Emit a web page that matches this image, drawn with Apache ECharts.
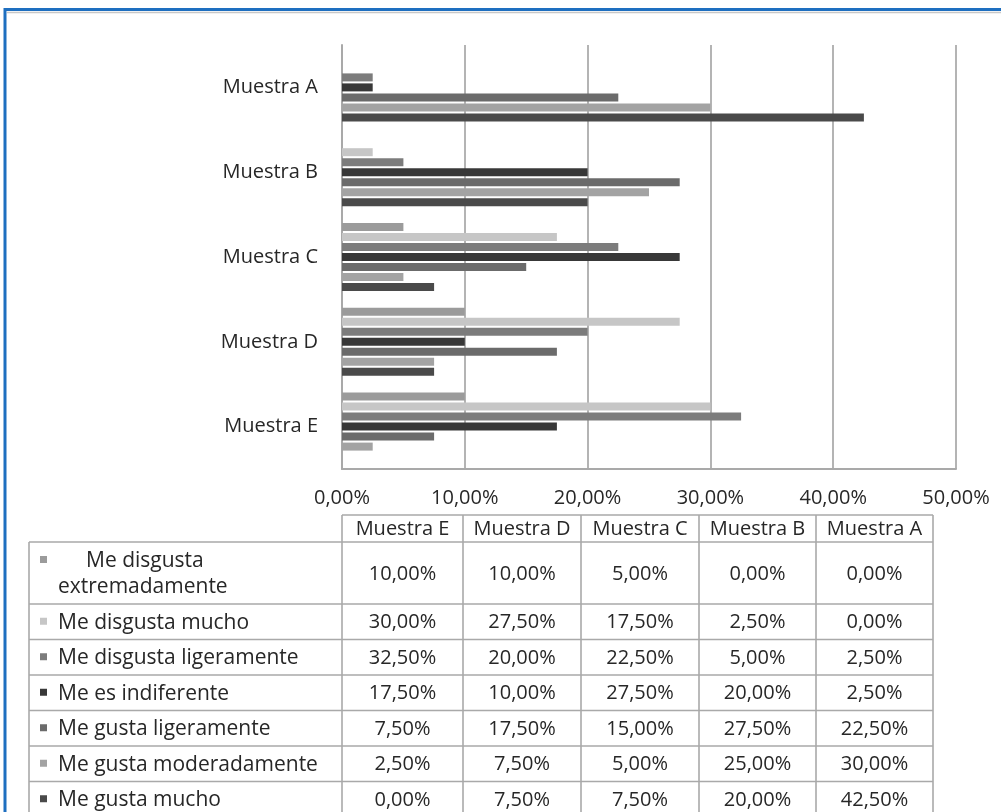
<!DOCTYPE html>
<html>
<head>
<meta charset="utf-8">
<script src="https://cdn.jsdelivr.net/npm/echarts@6/dist/echarts.min.js"></script>
<style>
  html, body { margin: 0; padding: 0; background: #fff; }
  #chart { width: 1001px; height: 812px; }
</style>
</head>
<body>
<div id="chart"></div>
<script>
// Samples (table column order; first category sits at the bottom of the y axis)
const categories = ['Muestra E', 'Muestra D', 'Muestra C', 'Muestra B', 'Muestra A'];

// Response shares in percent, one array per answer, same order as categories
const disgustaExtremadamente = [10.0, 10.0, 5.0, 0.0, 0.0];
const disgustaMucho          = [30.0, 27.5, 17.5, 2.5, 0.0];
const disgustaLigeramente    = [32.5, 20.0, 22.5, 5.0, 2.5];
const esIndiferente          = [17.5, 10.0, 27.5, 20.0, 2.5];
const gustaLigeramente       = [7.5, 17.5, 15.0, 27.5, 22.5];
const gustaModeradamente     = [2.5, 7.5, 5.0, 25.0, 30.0];
const gustaMucho             = [0.0, 7.5, 7.5, 20.0, 42.5];

// Value axis ticks
const axisMin = 0, axisMax = 50, axisStep = 10;

const seriesDefs = [
  { name: 'Me disgusta extremadamente', data: disgustaExtremadamente, color: '#9b9b9b', lines: ['Me disgusta', 'extremadamente'] },
  { name: 'Me disgusta mucho',          data: disgustaMucho,          color: '#c6c6c6' },
  { name: 'Me disgusta ligeramente',    data: disgustaLigeramente,    color: '#7c7c7c' },
  { name: 'Me es indiferente',          data: esIndiferente,          color: '#383838' },
  { name: 'Me gusta ligeramente',       data: gustaLigeramente,       color: '#6b6b6b' },
  { name: 'Me gusta moderadamente',     data: gustaModeradamente,     color: '#a3a3a3' },
  { name: 'Me gusta mucho',             data: gustaMucho,             color: '#4a4a4a' }
];

const pct = v => v.toFixed(2).replace('.', ',') + '%';

const FONT = '"Open Sans", Lato, sans-serif';
const FS = 20;        // axis, header and value text
const FS_ROW = 21;    // row captions of the data table
const TEXT = '#272727';
const LINE = '#a9a9a9';

// Data table geometry
const tbl = {
  labelLeft: 29,
  colEdges: [342, 463, 581, 699, 816, 933],
  headerTop: 515,
  headerBottom: 542,
  rowHeights: [62, 35.5, 35.5, 35.5, 35.5, 35.5, 35.5]
};

function buildTable() {
  const els = [];
  const left = tbl.labelLeft;
  const right = tbl.colEdges[tbl.colEdges.length - 1];
  const line = (x1, y1, x2, y2) => ({
    type: 'line', silent: true,
    shape: { x1, y1, x2, y2 },
    style: { stroke: LINE, lineWidth: 1.6 }
  });
  const text = (x, y, str, align, size) => ({
    type: 'text', silent: true,
    style: { x, y, text: str, font: (size || FS) + 'px ' + FONT, fill: TEXT, align: align || 'center', verticalAlign: 'middle' }
  });

  // header row
  els.push(line(tbl.colEdges[0], tbl.headerTop, right, tbl.headerTop));
  for (let c = 0; c < categories.length; c++) {
    const cx = (tbl.colEdges[c] + tbl.colEdges[c + 1]) / 2;
    els.push(text(cx, (tbl.headerTop + tbl.headerBottom) / 2 + 1, categories[c]));
  }

  // body rows
  let y = tbl.headerBottom;
  els.push(line(left, y, right, y));
  seriesDefs.forEach((s, r) => {
    const h = tbl.rowHeights[r];
    const cy = y + h / 2;
    if (s.lines) {
      els.push({ type: 'rect', silent: true, shape: { x: 40, y: y + 14, width: 7, height: 7 }, style: { fill: s.color } });
      els.push(text(86, y + 19, s.lines[0], 'left', FS_ROW));
      els.push(text(58, y + 45, s.lines[1], 'left', FS_ROW));
    } else {
      els.push({ type: 'rect', silent: true, shape: { x: 40, y: cy - 4, width: 7, height: 7 }, style: { fill: s.color } });
      els.push(text(58, cy + 1, s.name, 'left', FS_ROW));
    }
    s.data.forEach((v, c) => {
      const cx = (tbl.colEdges[c] + tbl.colEdges[c + 1]) / 2;
      els.push(text(cx, cy + 1, pct(v)));
    });
    y += h;
    els.push(line(left, y, right, y));
  });

  // vertical rules
  els.push(line(left, tbl.headerBottom, left, y));
  tbl.colEdges.forEach(x => els.push(line(x, tbl.headerTop, x, y)));
  return els;
}

const chart = echarts.init(document.getElementById('chart'), null, { renderer: 'canvas' });

chart.setOption({
  backgroundColor: '#ffffff',
  animation: false,
  textStyle: { fontFamily: FONT },
  grid: { left: 342, top: 45, width: 614, height: 424, containLabel: false },
  xAxis: {
    type: 'value',
    min: axisMin, max: axisMax, interval: axisStep,
    axisLine: { show: true, lineStyle: { color: LINE, width: 2 } },
    axisTick: { show: false },
    splitLine: { show: true, lineStyle: { color: '#b4b4b4', width: 2 } },
    axisLabel: { formatter: pct, color: TEXT, fontSize: FS, fontFamily: FONT, margin: 19 }
  },
  yAxis: {
    type: 'category',
    data: categories,
    axisLine: { show: true, lineStyle: { color: LINE, width: 2 } },
    axisTick: { show: false },
    axisLabel: { color: TEXT, fontSize: FS, fontFamily: FONT, margin: 24 }
  },
  series: seriesDefs.map(s => ({
    name: s.name,
    type: 'bar',
    data: s.data,
    barWidth: 8,
    barGap: '25%',
    itemStyle: { color: s.color },
    silent: true
  })),
  graphic: [
    // frame around the chart area
    { type: 'rect', silent: true, shape: { x: 5, y: 9.5, width: 1100, height: 900 },
      style: { fill: 'none', stroke: '#1e6fc0', lineWidth: 3 } },
    { type: 'line', silent: true, shape: { x1: 7, y1: 12.5, x2: 1001, y2: 12.5 },
      style: { stroke: '#c8c8c8', lineWidth: 1.5 } }
  ].concat(buildTable())
});
</script>
</body>
</html>
